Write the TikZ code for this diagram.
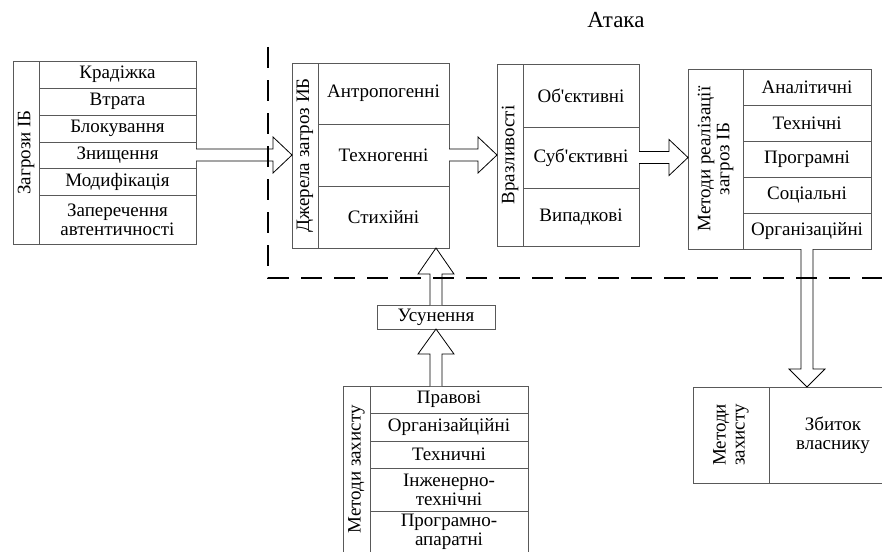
\documentclass[tikz,border=0pt]{standalone}
\usepackage{fontspec}
\setmainfont{Liberation Serif}
\usetikzlibrary{positioning,calc}
\newcommand{\cellfont}{\fontsize{19}{19}\selectfont}
\newcommand{\sw}{6pt}
\newcommand{\hw}{18pt}
% block arrow, tip at the x of #2
\newcommand{\harr}[2]{\draw[arr] let \p1=(#1), \p2=(#2) in
  (\x1,\y1+\sw)--(\x2-19pt,\y1+\sw)--(\x2-19pt,\y1+\hw)--(\x2,\y1)
  --(\x2-19pt,\y1-\hw)--(\x2-19pt,\y1-\sw)--(\x1,\y1-\sw);}
% block arrow, tip at the y of #3
\newcommand{\varr}[3][19pt]{\draw[arr] let \p1=(#2), \p2=(#3), \n1={sign(\y2-\y1)} in
  (\x1-\sw,\y1)--(\x1-\sw,\y2-\n1*#1)--(\x1-\hw,\y2-\n1*#1)--(\x1,\y2)
  --(\x1+\hw,\y2-\n1*#1)--(\x1+\sw,\y2-\n1*#1)--(\x1+\sw,\y1);}
\tikzset{
  box/.style={draw=black!65, line width=0.8pt, inner sep=0pt, outer sep=0pt,
    align=center, font=\cellfont},
  row/.style={box, minimum height=#1},
  arr/.style={draw=black, line width=0.8pt, fill=white},
  border/.style={line width=2.8pt, dash pattern=on 21pt off 12pt}
}
\begin{document}
\begin{tikzpicture}[x=1pt,y=-1pt]
\useasboundingbox (0,0) rectangle (882,551);
\clip (0,0) rectangle (882,551);
\node[font=\fontsize{23}{25}\selectfont] (atk) at (616,20) {Атака};
%threats
\node[row=27pt, minimum width=157pt, anchor=north west] (z1) at (39,61) {Крадіжка};
\node[row=27pt, minimum width=157pt, below=0pt of z1] (z2) {Втрата};
\node[row=27pt, minimum width=157pt, below=0pt of z2] (z3) {Блокування};
\node[row=26pt, minimum width=157pt, below=0pt of z3] (z4) {Знищення};
\node[row=27pt, minimum width=157pt, below=0pt of z4] (z5) {Модифікація};
\node[row=49pt, minimum width=157pt, below=0pt of z5] (z6) {Заперечення\\автентичності};
\node[box, rotate=90, minimum width=183pt, minimum height=26pt, anchor=south east] (zT) at (z1.north west) {Загрози ІБ};
%sources
\node[row=61pt, minimum width=131pt, anchor=north west] (d1) at (318,63) {Антропогенні};
\node[row=62pt, minimum width=131pt, below=0pt of d1] (d2) {Техногенні};
\node[row=62pt, minimum width=131pt, below=0pt of d2] (d3) {Стихійні};
\node[box, rotate=90, minimum width=185pt, minimum height=26pt, anchor=south east] (dT) at (d1.north west) {Джерела загроз ИБ};
%vulnerabilities
\node[row=63pt, minimum width=116pt, anchor=north west] (v1) at (523,64) {Об\textquotesingle єктивні};
\node[row=61pt, minimum width=116pt, below=0pt of v1] (v2) {Суб\textquotesingle єктивні};
\node[row=58pt, minimum width=116pt, below=0pt of v2] (v3) {Випадкові};
\node[box, rotate=90, minimum width=182pt, minimum height=26pt, anchor=south east] (vT) at (v1.north west) {Вразливості};
%methods of attack
\node[row=36pt, minimum width=128pt, anchor=north west] (m1) at (743,69) {Аналітичні};
\node[row=36pt, minimum width=128pt, below=0pt of m1] (m2) {Технічні};
\node[row=36pt, minimum width=128pt, below=0pt of m2] (m3) {Програмні};
\node[row=36pt, minimum width=128pt, below=0pt of m3] (m4) {Соціальні};
\node[row=36pt, minimum width=128pt, below=0pt of m4] (m5) {Організаційні};
\node[box, rotate=90, minimum width=180pt, minimum height=55pt, anchor=south east] (mT) at (m1.north west) {Методи реалізації\\загроз ІБ};
%removal
\node[box, minimum width=118pt, minimum height=24pt] (us) at (436,317) {Усунення};
%protection
\node[row=27pt, minimum width=158pt, anchor=north west] (k1) at (370,386) {Правові};
\node[row=28pt, minimum width=158pt, below=0pt of k1] (k2) {Організайційні};
\node[row=27pt, minimum width=158pt, below=0pt of k2] (k3) {Техничні};
\node[row=43pt, minimum width=158pt, below=0pt of k3] (k4) {Інженерно-\\технічні};
\node[row=42pt, minimum width=158pt, below=0pt of k4] (k5) {Програмно-\\апаратні};
\node[box, rotate=90, minimum width=167pt, minimum height=27pt, anchor=south east] (kT) at (k1.north west) {Методи захисту};
%damage
\node[row=96pt, minimum width=128pt, anchor=north west] (b1) at (769,387) {Збиток\\власнику};
\node[box, rotate=90, minimum width=96pt, minimum height=76pt, anchor=south east] (bT) at (b1.north west) {Методи\\захисту};
%arrows
\harr{z4.east}{dT.north}
\harr{d2.east}{vT.north}
\harr{v2.east}{mT.north}
\varr[18pt]{m5.south}{b1.north}
\varr[26pt]{us.north}{d3.south}
\varr[25pt]{us.south |- k1.north}{us.south}
%border
\draw[border] (268,47)--(268,278)--(882,278);
\end{tikzpicture}
\end{document}
